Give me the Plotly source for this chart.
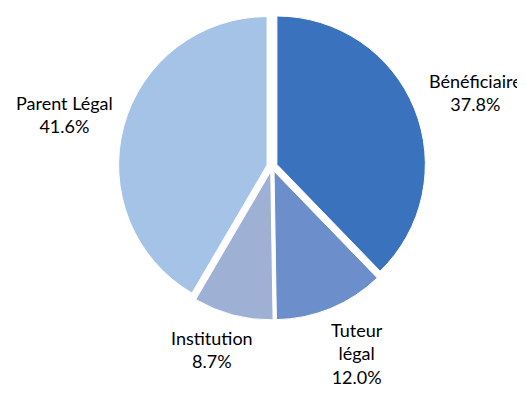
import plotly.graph_objects as go

labels = ["Bénéficiaire", "Tuteur légal", "Institution", "Parent Légal"]
label_text = ["Bénéficiaire", "Tuteur<br>légal", "Institution", "Parent Légal"]
values = [37.8, 12.0, 8.7, 41.6]
colors = ["#3a72bd", "#6c8fcb", "#9eb1d4", "#a5c2e7"]

# label centre positions in pixels (x, y from top)
label_pos = [(467, 84), (349, 345), (204, 341), (56, 106)]

W, H = 525, 396

fig = go.Figure(go.Pie(
    labels=labels,
    values=values,
    sort=False,
    direction="clockwise",
    rotation=0,
    marker=dict(colors=colors, line=dict(color="white", width=1)),
    pull=[0.035, 0.035, 0.035, 0.035],
    textinfo="none",
    hoverinfo="label+percent",
    showlegend=False,
    domain=dict(x=[0.208, 0.798], y=[0.212, 0.988]),
))

for t, v, (px, py) in zip(label_text, values, label_pos):
    fig.add_annotation(
        x=px / W, y=1 - py / H, xref="paper", yref="paper",
        text=f"{t}<br>{v:.1f}%", showarrow=False,
        xanchor="center", yanchor="middle",
        font=dict(family="Lato, 'Open Sans', sans-serif", size=18, color="#000000"),
    )

fig.update_layout(
    width=W, height=H,
    margin=dict(l=0, r=0, t=0, b=0),
    paper_bgcolor="white", plot_bgcolor="white",
)

fig.write_html("out.html")
